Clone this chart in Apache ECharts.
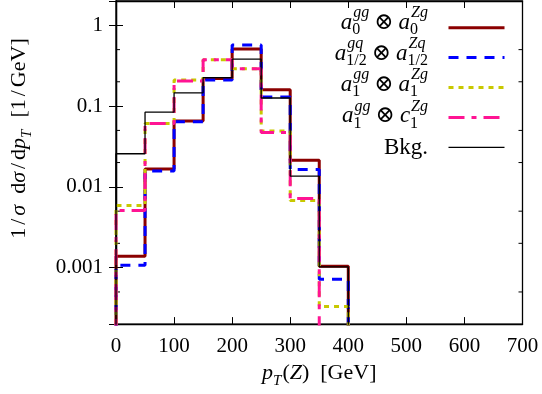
<!DOCTYPE html>
<html>
<head>
<meta charset="utf-8">
<script src="https://cdn.jsdelivr.net/npm/echarts@6/dist/echarts.min.js"></script>
<style>
  html, body { margin: 0; padding: 0; background: #fff; }
  #chart { width: 542px; height: 394px; }
</style>
</head>
<body>
<div id="chart"></div>
<script>
// bin edges, pT(Z) in GeV
var binEdges = [0, 50, 100, 150, 200, 250, 300, 350, 400];
// 1/sigma dsigma/dpT per bin [1/GeV], 0 = empty bin
var a0a0 = [0.00138, 0.0167, 0.0654, 0.22, 0.51, 0.159, 0.0213, 0.00104];
var ahalf = [0.00107, 0.0157, 0.064, 0.21, 0.57, 0.13, 0.0164, 0.00072];
var a1a1 = [0.0059, 0.061, 0.21, 0.375, 0.29, 0.049, 0.0068, 0.00033];
var a1c1 = [0.0051, 0.0607, 0.205, 0.375, 0.29, 0.047, 0.0072, 0];
var bkg = [0.0257, 0.084, 0.146, 0.2245, 0.382, 0.126, 0.0136, 0.00102];

// axes
var xTicks = [0, 100, 200, 300, 400, 500, 600, 700];
var yMajorTicks = [0.001, 0.01, 0.1, 1];
var yMinorTicks = [0.0005, 0.002, 0.005, 0.02, 0.05, 0.2, 0.5];
var yRange = [0.0002, 2];

var SERIF = '"Liberation Serif", "DejaVu Serif", serif';
var FLOOR = yRange[0] / 10; // empty bins drawn below the axis

// step outline: rises at the first edge, falls at the last one
function histo(vals) {
  var pts = [[binEdges[0], FLOOR]];
  for (var i = 0; i < vals.length; i++) {
    pts.push([binEdges[i], vals[i] > 0 ? vals[i] : FLOOR]);
  }
  pts.push([binEdges[binEdges.length - 1], FLOOR]);
  return pts;
}

var styles = [
  { name: 'a0', data: a0a0, color: '#8b0000', width: 3, type: 'solid' },
  { name: 'a12', data: ahalf, color: '#0000ff', width: 3, type: [10, 8] },
  { name: 'a1', data: a1a1, color: '#c8c800', width: 3, type: [5, 5] },
  { name: 'c1', data: a1c1, color: '#ff1493', width: 3, type: [16, 7, 5, 7] },
  { name: 'bkg', data: bkg, color: '#000000', width: 1.3, type: 'solid' }
];

// legend labels (math pieces)
var legendLabels = [
  [{ s: 'a', it: 1 }, { sup: 'gg', sub: '0' }, { op: '\u2297' }, { s: 'a', it: 1 }, { sup: 'Zg', sub: '0' }],
  [{ s: 'a', it: 1 }, { sup: 'gq', sub: '1/2' }, { op: '\u2297' }, { s: 'a', it: 1 }, { sup: 'Zq', sub: '1/2' }],
  [{ s: 'a', it: 1 }, { sup: 'gg', sub: '1' }, { op: '\u2297' }, { s: 'a', it: 1 }, { sup: 'Zg', sub: '1' }],
  [{ s: 'a', it: 1 }, { sup: 'gg', sub: '1' }, { op: '\u2297' }, { s: 'c', it: 1 }, { sup: 'Zg', sub: '1' }],
  [{ s: 'Bkg.' }]
];

var ctx = document.createElement('canvas').getContext('2d');
function textWidth(s, font) { ctx.font = font; return ctx.measureText(s).width; }

var fIt = 'italic 23px ' + SERIF, fUp = '23px ' + SERIF;
var fScrIt = 'italic 16px ' + SERIF, fScrUp = '16px ' + SERIF;

function labelGraphic(parts, right, cy) {
  var items = [], x = 0;
  parts.forEach(function (p) {
    if (p.sup !== undefined) {
      var w1 = textWidth(p.sup, fScrIt), w2 = textWidth(p.sub, fScrUp);
      items.push({ s: p.sup, font: fScrIt, x: x + 1, dy: -10 });
      items.push({ s: p.sub, font: fScrUp, x: x, dy: 7 });
      x += Math.max(w1 + 1, w2);
    } else if (p.op) {
      x += 5;
      items.push({ s: p.op, font: fUp, x: x, dy: 0 });
      x += textWidth(p.op, fUp) + 5;
    } else {
      var f = p.it ? fIt : fUp;
      items.push({ s: p.s, font: f, x: x, dy: 0 });
      x += textWidth(p.s, f);
    }
  });
  return items.map(function (it) {
    return {
      type: 'text', x: right - x + it.x, y: cy + it.dy, silent: true,
      style: { text: it.s, font: it.font, fill: '#000', textVerticalAlign: 'middle', verticalAlign: 'middle' }
    };
  });
}

var graphics = [];
legendLabels.forEach(function (parts, i) {
  graphics = graphics.concat(labelGraphic(parts, 428, 22.7 + i * 31.2));
});

var series = styles.map(function (s) {
  return {
    name: s.name, type: 'line', step: 'end', symbol: 'none', showSymbol: false,
    data: histo(s.data), xAxisIndex: 0, yAxisIndex: 0,
    lineStyle: { color: s.color, width: s.width, type: s.type, cap: 'butt' },
    itemStyle: { color: s.color }, emphasis: { disabled: true }, animation: false
  };
});

// minor log ticks on both sides
series.push({
  type: 'custom', silent: true, animation: false, clip: false, z: 1,
  data: yMinorTicks.map(function (v) { return [xTicks[0], v]; }),
  encode: { x: 0, y: 1 },
  renderItem: function (params, api) {
    var p = api.coord([api.value(0), api.value(1)]);
    var cs = params.coordSys;
    var st = { stroke: '#000', lineWidth: 1 };
    return { type: 'group', children: [
      { type: 'line', shape: { x1: cs.x, y1: p[1], x2: cs.x + 4, y2: p[1] }, style: st },
      { type: 'line', shape: { x1: cs.x + cs.width - 4, y1: p[1], x2: cs.x + cs.width, y2: p[1] }, style: st }
    ] };
  }
});

var labelFont = { fontFamily: SERIF, fontSize: 21, color: '#000' };
var tickStyle = { show: true, inside: true, length: 7, lineStyle: { color: '#000', width: 1 } };
var axisLine = { show: true, lineStyle: { color: '#000', width: 1.3 } };

function fmtY(v) {
  var r = Number(v.toPrecision(6));
  for (var i = 0; i < yMajorTicks.length; i++) {
    if (Math.abs(r - yMajorTicks[i]) < 1e-12) return String(yMajorTicks[i]);
  }
  return '';
}

var txtRich = {
  n: { fontFamily: SERIF, fontSize: 22, lineHeight: 24, verticalAlign: 'top', color: '#000' },
  i: { fontFamily: SERIF, fontSize: 22, fontStyle: 'italic', lineHeight: 24, verticalAlign: 'top', color: '#000' },
  sl: { fontFamily: SERIF, fontSize: 22, lineHeight: 24, verticalAlign: 'top', padding: [0, 3, 0, 3], color: '#000' },
  sb: { fontFamily: SERIF, fontSize: 15, fontStyle: 'italic', lineHeight: 14, verticalAlign: 'top', padding: [12, 1, 0, 0], color: '#000' }
};

var chart = echarts.init(document.getElementById('chart'), null, { renderer: 'canvas' });
chart.setOption({
  backgroundColor: '#fff',
  animation: false,
  grid: { left: 110, right: 19.5, top: 1, bottom: 66, show: true, borderColor: '#000', borderWidth: 1.3 },
  legend: {
    orient: 'vertical', left: 442, top: 15.7, itemWidth: 56, itemHeight: 14, itemGap: 17.3,
    selectedMode: false, formatter: function () { return ''; },
    itemStyle: { opacity: 0 },
    textStyle: { fontSize: 10 },
    data: styles.map(function (s) {
      return { name: s.name, lineStyle: { width: s.width, color: s.color, type: s.type } };
    })
  },
  xAxis: [{
    type: 'value', position: 'bottom',
    min: xTicks[0], max: xTicks[xTicks.length - 1], interval: xTicks[1] - xTicks[0],
    axisLine: axisLine, axisTick: tickStyle, splitLine: { show: false },
    axisLabel: Object.assign({ margin: 12 }, labelFont),
    name: '{i|p}{sb|T}{n|(}{i|Z}{n|)  [GeV]}', nameLocation: 'middle', nameGap: 33,
    nameTextStyle: { rich: txtRich }
  }, {
    type: 'value', position: 'top',
    min: xTicks[0], max: xTicks[xTicks.length - 1], interval: xTicks[1] - xTicks[0],
    axisLine: axisLine, axisTick: tickStyle, axisLabel: { show: false }, splitLine: { show: false }
  }],
  yAxis: [{
    type: 'log', logBase: 10, position: 'left', min: yRange[0], max: yRange[1],
    axisLine: axisLine, axisTick: tickStyle, splitLine: { show: false }, minorTick: { show: false },
    axisLabel: Object.assign({ margin: 13, formatter: fmtY, showMinLabel: false, showMaxLabel: false }, labelFont),
    name: '{n|1}{sl|/}{i|σ}{n|  d}{i|σ}{sl|/}{n|d}{i|p}{sb|T}{n|  [1}{sl|/}{n|GeV]}',
    nameLocation: 'middle', nameGap: 84, nameTextStyle: { rich: txtRich, padding: [0, 0, 0, 48] }
  }, {
    type: 'log', logBase: 10, position: 'right', min: yRange[0], max: yRange[1],
    axisLine: axisLine, axisTick: tickStyle, axisLabel: { show: false }, splitLine: { show: false }
  }],
  graphic: graphics,
  series: series
});
</script>
</body>
</html>
